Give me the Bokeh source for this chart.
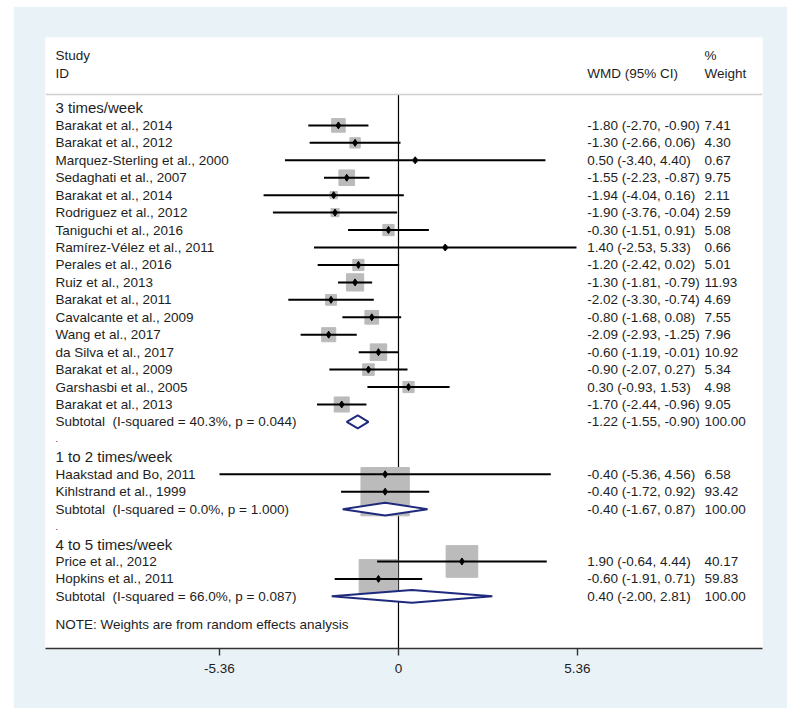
from bokeh.plotting import figure
from bokeh.models import ColumnDataSource, Range1d, FixedTicker, Span
from bokeh.embed import file_html
from bokeh.resources import INLINE
from bokeh.core.properties import value
import math

# ---------------- data ----------------
group_names = ["3 times/week", "1 to 2 times/week", "4 to 5 times/week"]

g1_studies = ["Barakat et al., 2014", "Barakat et al., 2012", "Marquez-Sterling et al., 2000",
              "Sedaghati et al., 2007", "Barakat et al., 2014", "Rodriguez et al., 2012",
              "Taniguchi et al., 2016", "Ramírez-Vélez et al., 2011", "Perales et al., 2016",
              "Ruiz et al., 2013", "Barakat et al., 2011", "Cavalcante et al., 2009",
              "Wang et al., 2017", "da Silva et al., 2017", "Barakat et al., 2009",
              "Garshasbi et al., 2005", "Barakat et al., 2013"]
g1_est = [-1.80, -1.30, 0.50, -1.55, -1.94, -1.90, -0.30, 1.40, -1.20, -1.30, -2.02, -0.80, -2.09, -0.60, -0.90, 0.30, -1.70]
g1_lo = [-2.70, -2.66, -3.40, -2.23, -4.04, -3.76, -1.51, -2.53, -2.42, -1.81, -3.30, -1.68, -2.93, -1.19, -2.07, -0.93, -2.44]
g1_hi = [-0.90, 0.06, 4.40, -0.87, 0.16, -0.04, 0.91, 5.33, 0.02, -0.79, -0.74, 0.08, -1.25, -0.01, 0.27, 1.53, -0.96]
g1_w = [7.41, 4.30, 0.67, 9.75, 2.11, 2.59, 5.08, 0.66, 5.01, 11.93, 4.69, 7.55, 7.96, 10.92, 5.34, 4.98, 9.05]

g2_studies = ["Haakstad and Bo, 2011", "Kihlstrand et al., 1999"]
g2_est = [-0.40, -0.40]
g2_lo = [-5.36, -1.72]
g2_hi = [4.56, 0.92]
g2_w = [6.58, 93.42]

g3_studies = ["Price et al., 2012", "Hopkins et al., 2011"]
g3_est = [1.90, -0.60]
g3_lo = [-0.64, -1.91]
g3_hi = [4.44, 0.71]
g3_w = [40.17, 59.83]

sub_labels = ["Subtotal \u00a0(I-squared = 40.3%, p = 0.044)",
              "Subtotal \u00a0(I-squared = 0.0%, p = 1.000)",
              "Subtotal \u00a0(I-squared = 66.0%, p = 0.087)"]
sub_est = [-1.22, -0.40, 0.40]
sub_lo = [-1.55, -1.67, -2.00]
sub_hi = [-0.90, 0.87, 2.81]
sub_w = [100.00, 100.00, 100.00]

tick_values = [-5.36, 0, 5.36]
tick_labels = ["-5.36", "0", "5.36"]
note_text = "NOTE: Weights are from random effects analysis"

# ---------------- layout of rows ----------------
groups = [(g1_studies, g1_est, g1_lo, g1_hi, g1_w),
          (g2_studies, g2_est, g2_lo, g2_hi, g2_w),
          (g3_studies, g3_est, g3_lo, g3_hi, g3_w)]

st = dict(y=[], label=[], est=[], lo=[], hi=[], w=[], ci=[], wt=[], size=[])
head = dict(y=[], label=[])
dots = dict(y=[], label=[])
sub = dict(y=[], label=[], ci=[], wt=[], xs=[], ys=[])
row = 0
DH = 0.37
for gi, (names, es, los, his, ws) in enumerate(groups):
    head["y"].append(row); head["label"].append(group_names[gi])
    row += 1
    for n, e, l, h, w in zip(names, es, los, his, ws):
        st["y"].append(row); st["label"].append(n)
        st["est"].append(e); st["lo"].append(l); st["hi"].append(h); st["w"].append(w)
        st["ci"].append(f"{e:.2f} ({l:.2f}, {h:.2f})")
        st["wt"].append(f"{w:.2f}")
        st["size"].append(5.0 * math.sqrt(w))
        row += 1
    e, l, h = sub_est[gi], sub_lo[gi], sub_hi[gi]
    sub["y"].append(row); sub["label"].append(sub_labels[gi])
    sub["ci"].append(f"{e:.2f} ({l:.2f}, {h:.2f})"); sub["wt"].append(f"{sub_w[gi]:.2f}")
    sub["xs"].append([l, e, h, e]); sub["ys"].append([row, row - DH, row, row + DH])
    row += 1
    if gi < len(groups) - 1:
        dots["y"].append(row); dots["label"].append(".")
        row += 1

note_row = row + 0.6
y_top, y_bot = -4.04, 30.99
hdr_line = -0.77

X_LAB = -10.27
X_CI = 5.65
X_WT = 9.16

FONT = value("Liberation Sans")
TXT = "#1e1e1e"

p = figure(width=774, height=702, output_backend="svg", toolbar_location=None,
           x_range=Range1d(-10.57, 10.90), y_range=Range1d(y_bot, y_top),
           min_border_left=32, min_border_right=25, min_border_top=31, min_border_bottom=60)
p.margin = (6, 0, 0, 13)
p.background_fill_color = "white"
p.border_fill_color = "#e9f2f6"
p.outline_line_color = None
p.xgrid.visible = False
p.ygrid.visible = False
p.yaxis.visible = False

xa = p.xaxis[0]
xa.ticker = FixedTicker(ticks=tick_values)
xa.major_label_overrides = {float(v): s for v, s in zip(tick_values, tick_labels)}
xa.minor_tick_line_color = None
xa.major_tick_in = 0
xa.major_tick_out = 7
xa.major_label_standoff = 8
xa.axis_line_color = "#333333"
xa.axis_line_width = 1.6
xa.major_tick_line_color = "#333333"
xa.major_tick_line_width = 1.4
xa.major_label_text_font = "Liberation Sans"
xa.major_label_text_font_size = "13.5px"
xa.major_label_text_color = TXT

# header divider
p.add_layout(Span(location=hdr_line, dimension="width", line_color="#cfcfcf", line_width=1.5))

# zero line
p.segment(x0=[0], x1=[0], y0=[hdr_line], y1=[y_bot], line_color="black", line_width=1.2)

src = ColumnDataSource(st)
# weight boxes
p.scatter(x="est", y="y", size="size", marker="square", source=src,
          fill_color="#bbbbbb", line_color="#bbbbbb")
# CI lines
p.segment(x0="lo", x1="hi", y0="y", y1="y", source=src, line_color="black", line_width=2)
# point estimates
p.scatter(x="est", y="y", size=7, marker="diamond", source=src,
          fill_color="black", line_color="black")

# subtotal diamonds
ssrc = ColumnDataSource(sub)
p.patches(xs="xs", ys="ys", source=ssrc, fill_color="white", line_color="#1f2a7d", line_width=2)

# texts
def txt(x, y, t, size="13.5px", align="left"):
    p.text(x=x, y=y, text=t, text_font=FONT, text_font_size=size,
           text_baseline="middle", text_align=align, text_color=TXT)

p.text(x=X_LAB, y="y", text="label", source=src, text_font=FONT, text_font_size="13.5px",
       text_baseline="middle", text_color=TXT)
p.text(x=X_CI, y="y", text="ci", source=src, text_font=FONT, text_font_size="13.5px",
       text_baseline="middle", text_color=TXT)
p.text(x=X_WT, y="y", text="wt", source=src, text_font=FONT, text_font_size="13.5px",
       text_baseline="middle", text_color=TXT)

p.text(x=X_LAB, y="y", text="label", source=ColumnDataSource(head), text_font=FONT,
       text_font_size="15px", text_baseline="middle", text_color=TXT)
p.text(x=X_LAB, y="y", text="label", source=ColumnDataSource(dots), text_font=FONT,
       text_font_size="9px", text_baseline="middle", text_color=TXT)
p.text(x=X_LAB, y="y", text="label", source=ssrc, text_font=FONT, text_font_size="13.5px",
       text_baseline="middle", text_color=TXT)
p.text(x=X_CI, y="y", text="ci", source=ssrc, text_font=FONT, text_font_size="13.5px",
       text_baseline="middle", text_color=TXT)
p.text(x=X_WT, y="y", text="wt", source=ssrc, text_font=FONT, text_font_size="13.5px",
       text_baseline="middle", text_color=TXT)

# header
txt([X_LAB], [-3.0], ["Study"])
txt([X_LAB], [-1.98], ["ID"])
txt([X_CI], [-1.98], ["WMD (95% CI)"])
txt([X_WT], [-3.0], ["%"])
txt([X_WT], [-1.98], ["Weight"])

# note
txt([X_LAB], [note_row], [note_text])

open("out.html", "w").write(file_html(p, INLINE))
